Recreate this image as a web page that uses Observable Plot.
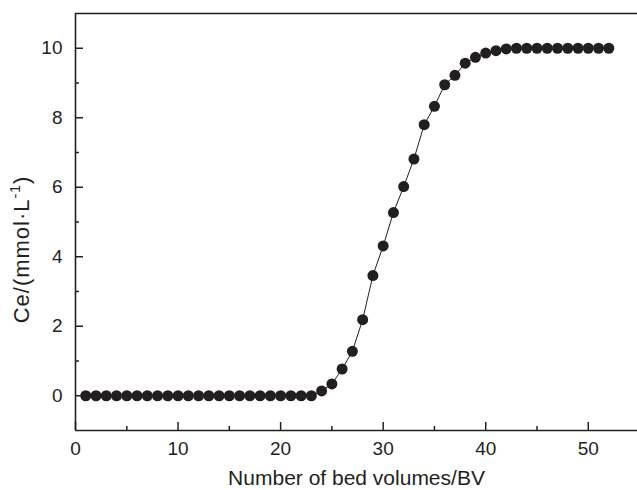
<!DOCTYPE html>
<html>
<head>
<meta charset="utf-8">
<script src="https://cdn.jsdelivr.net/npm/d3@7"></script>
<script src="https://cdn.jsdelivr.net/npm/@observablehq/plot@0.6"></script>
<style>
  body { margin: 0; background: #fff; }
  #chart svg { display: block; }
</style>
</head>
<body>
<div id="chart"></div>
<script>
// Breakthrough curve: effluent concentration vs. number of bed volumes
const bedVolumes = [1, 2, 3, 4, 5, 6, 7, 8, 9, 10, 11, 12, 13, 14, 15, 16, 17, 18, 19, 20,
  21, 22, 23, 24, 25, 26, 27, 28, 29, 30, 31, 32, 33, 34, 35, 36, 37, 38, 39, 40,
  41, 42, 43, 44, 45, 46, 47, 48, 49, 50, 51, 52];
const ce = [0, 0, 0, 0, 0, 0, 0, 0, 0, 0, 0, 0, 0, 0, 0, 0, 0, 0, 0, 0,
  0, 0, 0, 0.14, 0.34, 0.77, 1.28, 2.19, 3.46, 4.31, 5.27, 6.02, 6.81, 7.80, 8.33, 8.95, 9.22, 9.57, 9.74, 9.86,
  9.93, 9.98, 10, 10, 10, 10, 10, 10, 10, 10, 10, 10];

const xMajor = [0, 10, 20, 30, 40, 50];
const xMinor = [5, 15, 25, 35, 45];
const yMajor = [0, 2, 4, 6, 8, 10];
const yMinor = [1, 3, 5, 7, 9];
const xDomain = [0, 54.8];
const yDomain = [-1, 11];
const xTitle = "Number of bed volumes/BV";

const data = bedVolumes.map((bv, i) => ({bv, ce: ce[i]}));

const W = 637, H = 490;
const mL = 75, mR = 0, mT = 13, mB = 60;
const plotW = W - mL - mR, plotH = H - mT - mB;
const ink = "#231f20";
const font = "'Liberation Sans', Arial, Helvetica, sans-serif";

const chart = Plot.plot({
  width: W,
  height: H,
  marginLeft: mL,
  marginRight: mR,
  marginTop: mT,
  marginBottom: mB,
  style: {fontFamily: font, color: ink, background: "#fff", overflow: "visible"},
  x: {domain: xDomain},
  y: {domain: yDomain},
  marks: [
    // frame: left, bottom and top borders
    Plot.ruleX([xDomain[0]], {stroke: ink, strokeWidth: 1.6}),
    Plot.ruleY([yDomain[0]], {stroke: ink, strokeWidth: 1.6}),
    Plot.ruleY([yDomain[1]], {stroke: ink, strokeWidth: 1.6}),
    // inward tick marks
    Plot.tickX(xMajor, {x: d => d, insetTop: plotH - 8, stroke: ink, strokeWidth: 1.5}),
    Plot.tickX(xMinor, {x: d => d, insetTop: plotH - 4, stroke: ink, strokeWidth: 1.5}),
    Plot.tickY(yMajor, {y: d => d, insetRight: plotW - 8, stroke: ink, strokeWidth: 1.5}),
    Plot.tickY(yMinor, {y: d => d, insetRight: plotW - 4, stroke: ink, strokeWidth: 1.5}),
    // tick labels
    Plot.axisX({ticks: xMajor, tickSize: 0, tickPadding: 11, fontSize: 19, label: null, fill: ink}),
    Plot.axisY({ticks: yMajor, tickSize: 0, tickPadding: 13, fontSize: 19, label: null, fill: ink}),
    // x title
    Plot.text([xTitle], {text: d => d, frameAnchor: "bottom", dy: 48, fontSize: 21, fill: ink, lineAnchor: "middle"}),
    // data
    Plot.line(data, {x: "bv", y: "ce", stroke: ink, strokeWidth: 1}),
    Plot.dot(data, {x: "bv", y: "ce", r: 5.5, fill: ink, stroke: "none"})
  ]
});

// y title with a raised exponent
const svg = d3.select(chart);
const yS = chart.scale("y");
const yMid = (yS.apply(yDomain[0]) + yS.apply(yDomain[1])) / 2 + 28;
const t = svg.append("text")
  .attr("transform", `translate(29,${yMid}) rotate(-90)`)
  .attr("text-anchor", "middle")
  .attr("font-family", font)
  .attr("font-size", 22)
  .attr("letter-spacing", 1)
  .attr("fill", ink);
t.append("tspan").text("Ce/(mmol·L");
t.append("tspan").attr("font-size", 14).attr("dy", -9).text("-1");
t.append("tspan").attr("dy", 9).text(")");

document.getElementById("chart").appendChild(chart);
</script>
</body>
</html>
